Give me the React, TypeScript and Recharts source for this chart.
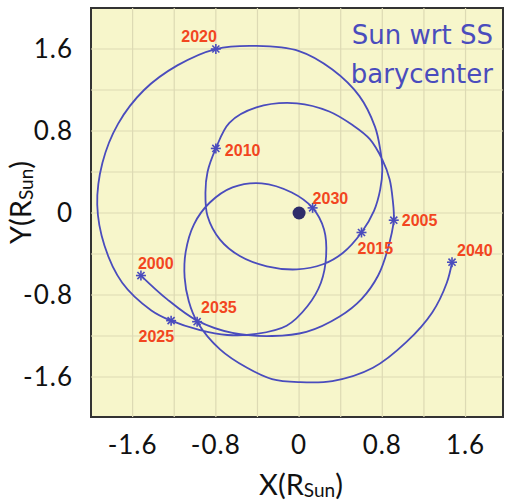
import React from "react";
import {
  ComposedChart,
  Line,
  Scatter,
  XAxis,
  YAxis,
  ReferenceLine,
  ReferenceArea,
  Label,
} from "recharts";

// path of the Sun around the solar system barycenter, 2000 -> 2040 (in solar radii)
const pathX = [
  -1.52, -1.27, -0.98, -0.64, -0.26, 0.07, 0.39, 0.6, 0.76, 0.85, 0.91,
  0.9, 0.87, 0.8, 0.68, 0.51, 0.29, -0.02, -0.41, -0.67, -0.8,
  -0.88, -0.9, -0.88, -0.76, -0.57, -0.31, -0.02, 0.23, 0.42, 0.6,
  0.72, 0.78, 0.8, 0.78, 0.73, 0.58, 0.32, 0.0, -0.41, -0.8,
  -1.17, -1.49, -1.74, -1.89, -1.94, -1.87, -1.7, -1.42, -1.23,
  -0.96, -0.69, -0.41, -0.12, 0.08, 0.21, 0.26, 0.24, 0.13,
  -0.07, -0.36, -0.64, -0.86, -1.01, -1.09, -1.1, -1.06, -0.98,
  -0.76, -0.5, -0.26, 0.0, 0.32, 0.71, 1.03, 1.28, 1.42, 1.47,
];
const pathY = [
  -0.61, -0.84, -1.05, -1.17, -1.2, -1.16, -1.01, -0.84, -0.61, -0.36, -0.07,
  0.13, 0.33, 0.52, 0.72, 0.86, 0.99, 1.07, 1.03, 0.88, 0.63,
  0.4, 0.2, -0.03, -0.26, -0.42, -0.52, -0.55, -0.5, -0.39, -0.19,
  0.02, 0.23, 0.42, 0.62, 0.84, 1.14, 1.4, 1.58, 1.63, 1.6,
  1.44, 1.2, 0.87, 0.49, 0.08, -0.32, -0.68, -0.95, -1.05,
  -1.14, -1.19, -1.18, -1.1, -0.91, -0.68, -0.42, -0.16, 0.05,
  0.2, 0.29, 0.25, 0.1, -0.11, -0.38, -0.63, -0.86, -1.06,
  -1.33, -1.51, -1.62, -1.65, -1.64, -1.51, -1.26, -0.97, -0.68, -0.48,
];

const years = [2000, 2005, 2010, 2015, 2020, 2025, 2030, 2035, 2040];
const yearX = [-1.52, 0.91, -0.8, 0.6, -0.8, -1.23, 0.13, -0.98, 1.47];
const yearY = [-0.61, -0.07, 0.63, -0.19, 1.6, -1.05, 0.05, -1.06, -0.48];

const sunX = [0];
const sunY = [0];

const axisTicks = [-1.6, -0.8, 0, 0.8, 1.6];
const gridTicks = [-1.6, -1.2, -0.8, -0.4, 0, 0.4, 0.8, 1.2, 1.6];

const pathData = pathX.map((x, i) => ({ x, y: pathY[i] }));
const yearData = years.map((year, i) => ({ year, x: yearX[i], y: yearY[i] }));
const sunData = sunX.map((x, i) => ({ x, y: sunY[i] }));

// where each year label sits relative to its star
const labelPos: Record<number, [number, number, "start" | "end"]> = {
  2000: [-3, -7, "start"],
  2005: [8, 6, "start"],
  2010: [9, 8, "start"],
  2015: [-4, 22, "start"],
  2020: [1, -7, "end"],
  2025: [3, 21, "end"],
  2030: [0, -4, "start"],
  2035: [4, -9, "start"],
  2040: [5, -6, "start"],
};

const BLUE = "#4a4cbd";
const RED = "#f2461f";

// centripetal catmull-rom, so the loops stay round with uneven point spacing
const catmullRom = (ctx: any) => {
  let pts: number[][] = [];
  const d = (a: number[], b: number[]) =>
    Math.pow(Math.hypot(b[0] - a[0], b[1] - a[1]), 0.5);
  return {
    areaStart() {},
    areaEnd() {},
    lineStart() {
      pts = [];
    },
    point(x: number, y: number) {
      pts.push([+x, +y]);
    },
    lineEnd() {
      if (!pts.length) return;
      ctx.moveTo(pts[0][0], pts[0][1]);
      for (let i = 0; i < pts.length - 1; i++) {
        const p0 = pts[i - 1];
        const p1 = pts[i];
        const p2 = pts[i + 1];
        const p3 = pts[i + 2];
        const d2 = d(p1, p2);
        let c1 = p1;
        let c2 = p2;
        if (p0) {
          const d1 = d(p0, p1);
          if (d1 > 1e-6) {
            const a = 2 * d1 * d1 + 3 * d1 * d2 + d2 * d2;
            const n = 3 * d1 * (d1 + d2);
            c1 = [0, 1].map((k) => (p1[k] * a - p0[k] * d2 * d2 + p2[k] * d1 * d1) / n);
          }
        }
        if (p3) {
          const d3 = d(p2, p3);
          if (d3 > 1e-6) {
            const b = 2 * d3 * d3 + 3 * d3 * d2 + d2 * d2;
            const m = 3 * d3 * (d3 + d2);
            c2 = [0, 1].map((k) => (p2[k] * b + p1[k] * d3 * d3 - p3[k] * d2 * d2) / m);
          }
        }
        ctx.bezierCurveTo(c1[0], c1[1], c2[0], c2[1], p2[0], p2[1]);
      }
    },
  };
};

const YearStar = (props: any) => {
  const { cx, cy, payload } = props;
  const r = 5;
  const [dx, dy, anchor] = labelPos[payload.year];
  return (
    <g>
      {[0, 45, 90, 135].map((a) => {
        const rad = (a * Math.PI) / 180;
        return (
          <line
            key={a}
            x1={cx - r * Math.cos(rad)}
            y1={cy - r * Math.sin(rad)}
            x2={cx + r * Math.cos(rad)}
            y2={cy + r * Math.sin(rad)}
            stroke={BLUE}
            strokeWidth={1.6}
          />
        );
      })}
      <text
        x={cx + dx}
        y={cy + dy}
        textAnchor={anchor}
        fill={RED}
        fontSize={16}
        fontWeight="bold"
        fontFamily="Liberation Sans, Arial, sans-serif"
      >
        {payload.year}
      </text>
    </g>
  );
};

const SunDot = (props: any) => (
  <circle cx={props.cx} cy={props.cy} r={6.5} fill="#2e2c6a" />
);

const tickStyle = { fill: "#111", fontSize: 26, fontFamily: "Lato", letterSpacing: 1 };

export default function App() {
  return (
    <div style={{ position: "absolute", left: 0, top: 0, width: 505, height: 500 }}>
      <ComposedChart
        width={505}
        height={500}
        margin={{ top: 8, right: 2, bottom: 0, left: 0 }}
      >
        <XAxis
          type="number"
          dataKey="x"
          domain={[-2, 1.96]}
          ticks={axisTicks}
          allowDataOverflow
          height={83}
          tickLine={false}
          axisLine={false}
          tickSize={0}
          tickMargin={19}
          tick={tickStyle}
        >
          <Label
            content={({ viewBox }: any) => (
              <text
                x={viewBox.x + viewBox.width / 2 + 4}
                y={viewBox.y + 78}
                textAnchor="middle"
                fill="#111"
                fontSize={29}
                fontFamily="Lato"
              >
                X(R
                <tspan fontSize={19} dy={2}>Sun</tspan>
                <tspan fontSize={29} dy={-2}>)</tspan>
              </text>
            )}
          />
        </XAxis>
        <YAxis
          type="number"
          dataKey="y"
          domain={[-1.99, 2]}
          ticks={axisTicks}
          allowDataOverflow
          width={91}
          tickLine={false}
          axisLine={false}
          tickSize={0}
          tickMargin={18}
          tick={tickStyle}
        >
          <Label
            content={({ viewBox }: any) => {
              const cx = 31;
              const cy = viewBox.y + viewBox.height / 2 - 10;
              return (
                <text
                  x={cx}
                  y={cy}
                  transform={`rotate(-90 ${cx} ${cy})`}
                  textAnchor="middle"
                  fill="#111"
                  fontSize={29}
                  fontFamily="Lato"
                >
                  Y(R
                  <tspan fontSize={19} dy={2}>Sun</tspan>
                  <tspan fontSize={29} dy={-2}>)</tspan>
                </text>
              );
            }}
          />
        </YAxis>
        <ReferenceArea
          x1={-2}
          x2={1.96}
          y1={-1.99}
          y2={2}
          fill="#f7f6cb"
          fillOpacity={1}
          stroke="none"
        />
        {gridTicks.map((v) => (
          <ReferenceLine key={"vx" + v} x={v} stroke="#dddab4" strokeWidth={1.2} />
        ))}
        {gridTicks.map((v) => (
          <ReferenceLine key={"hy" + v} y={v} stroke="#dddab4" strokeWidth={1.2} />
        ))}
        <ReferenceArea
          x1={-2}
          x2={1.96}
          y1={-1.99}
          y2={2}
          fill="none"
          stroke="#333"
          strokeWidth={2}
        />
        <Line
          data={pathData}
          dataKey="y"
          type={catmullRom as any}
          stroke={BLUE}
          strokeWidth={1.8}
          dot={false}
          activeDot={false}
          isAnimationActive={false}
        />
        <Scatter data={sunData} dataKey="y" shape={SunDot} isAnimationActive={false} />
        <Scatter data={yearData} dataKey="y" shape={YearStar} isAnimationActive={false} />
      </ComposedChart>
      <div
        style={{
          position: "absolute",
          right: 12,
          top: 16,
          textAlign: "right",
          color: "#4a4cbd",
          fontFamily: "DejaVu Sans",
          fontSize: 26,
          lineHeight: "39px",
        }}
      >
        Sun wrt SS
        <br />
        barycenter
      </div>
    </div>
  );
}
